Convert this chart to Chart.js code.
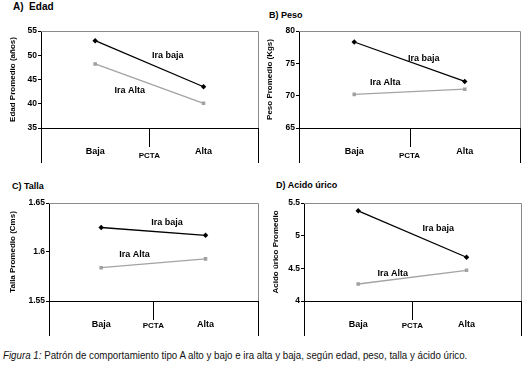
<!DOCTYPE html>
<html lang="es">
<head>
  <meta charset="UTF-8" />
  <title>Figura 1</title>
  <script src="https://cdn.jsdelivr.net/npm/chart.js"></script>
  <style>
    body { margin: 0; background: #fff; font-family: "Liberation Sans", Arial, sans-serif; }
    #wrap { position: relative; width: 526px; height: 368px; overflow: hidden; }
    canvas { position: absolute; }
    .ttl { position: absolute; font-weight: bold; font-size: 9px; color: #000; white-space: nowrap; line-height: 10px; }
    #caption { position: absolute; left: 3px; top: 349px; font-size: 11px; white-space: nowrap;
      font-family: "Liberation Sans", Arial, sans-serif; color: #111;
      transform: scaleX(0.885); transform-origin: left top; }
  </style>
</head>
<body>
<div id="wrap">
  <div class="ttl" style="left:13px;top:2px;font-size:10px;">A)&nbsp; Edad</div>
  <div class="ttl" style="left:269px;top:10px;">B) Peso</div>
  <div class="ttl" style="left:12px;top:181px;">C) Talla</div>
  <div class="ttl" style="left:276px;top:180px;">D) Acido úrico</div>
  <canvas id="cA" width="263" height="168" style="left:0;top:0"></canvas>
  <canvas id="cB" width="263" height="168" style="left:263px;top:0"></canvas>
  <canvas id="cC" width="263" height="168" style="left:0;top:170px"></canvas>
  <canvas id="cD" width="263" height="168" style="left:263px;top:170px"></canvas>
  <div id="caption"><i>Figura 1:</i> Patrón de comportamiento tipo A alto y bajo e ira alta y baja, según edad, peso, talla y ácido úrico.</div>
</div>

<script>
  // categorias (PCTA)
  const categories = ['Baja', 'Alta'];

  // A) Edad
  const edadIraBaja = [53.0, 43.5];
  const edadIraAlta = [48.2, 40.1];
  // B) Peso
  const pesoIraBaja = [78.3, 72.2];
  const pesoIraAlta = [70.2, 71.0];
  // C) Talla
  const tallaIraBaja = [1.625, 1.617];
  const tallaIraAlta = [1.584, 1.593];
  // D) Acido urico
  const acidoIraBaja = [5.38, 4.67];
  const acidoIraAlta = [4.26, 4.47];

  // where the "Ira baja" / "Ira Alta" texts sit (category index, value)
  const edadTextos = [['Ira baja', 0.67, 50.0], ['Ira Alta', 0.32, 42.7]];
  const pesoTextos = [['Ira baja', 0.63, 75.7], ['Ira Alta', 0.28, 72.1]];
  const tallaTextos = [['Ira baja', 0.63, 1.6305], ['Ira Alta', 0.32, 1.597]];
  const acidoTextos = [['Ira baja', 0.74, 5.11], ['Ira Alta', 0.32, 4.416]];

  const FONT = '"Liberation Sans", Arial, sans-serif';

  // plot frame, the Excel-like category box under the axis and the series texts
  const framePlugin = {
    id: 'frame',
    afterDraw(chart, args, opts) {
      const { ctx, chartArea: a, scales: { x, y } } = chart;
      ctx.save();
      ctx.lineWidth = 1;
      ctx.strokeStyle = '#8a8a8a';
      ctx.beginPath();
      ctx.moveTo(a.left, Math.round(a.top) + 0.5);
      ctx.lineTo(Math.round(a.right) + 0.5, Math.round(a.top) + 0.5);
      ctx.lineTo(Math.round(a.right) + 0.5, a.bottom);
      ctx.stroke();

      ctx.strokeStyle = '#000';
      const mid = Math.round((x.getPixelForValue(0) + x.getPixelForValue(1)) / 2) + 0.5;
      const l = Math.round(a.left) + 0.5, r = Math.round(a.right) + 0.5;
      ctx.beginPath();
      ctx.moveTo(l, a.bottom); ctx.lineTo(l, a.bottom + 35);
      ctx.moveTo(r, a.bottom); ctx.lineTo(r, a.bottom + 35);
      ctx.moveTo(mid, a.bottom); ctx.lineTo(mid, a.bottom + 19);
      ctx.stroke();

      ctx.fillStyle = '#000';
      ctx.font = 'bold 9px ' + FONT;
      ctx.textAlign = 'center';
      ctx.textBaseline = 'middle';
      (opts.texts || []).forEach(([t, i, v]) => {
        ctx.fillText(t, x.getPixelForValue(i), y.getPixelForValue(v));
      });
      ctx.restore();
    }
  };

  function makePanel(id, baja, alta, yMin, yMax, step, yTitle, texts, pad, yWidth, yTitlePad, xHeight) {
    return new Chart(document.getElementById(id), {
      type: 'line',
      data: {
        labels: categories,
        datasets: [
          {
            label: 'Ira baja', data: baja, borderColor: '#000', backgroundColor: '#000',
            borderWidth: 1.3, pointStyle: 'rectRot', pointRadius: 1.8, tension: 0
          },
          {
            label: 'Ira Alta', data: alta, borderColor: '#a3a3a3', backgroundColor: '#9a9a9a',
            borderWidth: 1.3, pointStyle: 'rect', pointRadius: 1.6, tension: 0
          }
        ]
      },
      options: {
        responsive: false,
        animation: false,
        devicePixelRatio: 1,
        layout: { padding: pad },
        plugins: {
          legend: { display: false },
          tooltip: { enabled: false },
          frame: { texts: texts }
        },
        scales: {
          x: {
            offset: true,
            grid: { display: false },
            border: { color: '#000', width: 1 },
            ticks: { color: '#000', font: { family: FONT, size: 9, weight: 'bold' }, padding: 10 },
            title: { display: true, text: 'PCTA', color: '#000',
                     font: { family: FONT, size: 8, weight: 'bold' }, padding: { top: 0, bottom: 7 } },
            afterFit: s => { s.height = xHeight; }
          },
          y: {
            min: yMin, max: yMax,
            grid: { drawOnChartArea: false, drawTicks: true, tickLength: 3, color: '#000' },
            border: { color: '#000', width: 1 },
            ticks: {
              stepSize: step, color: '#000', padding: 1,
              font: { family: FONT, size: 8.5, weight: 'bold' },
              callback: v => String(Math.round(v * 1000) / 1000)
            },
            title: { display: true, text: yTitle, color: '#000',
                     font: { family: FONT, size: 8, weight: 'bold' }, padding: { top: yTitlePad, bottom: 0 } },
            afterFit: s => { s.width = yWidth; }
          }
        }
      },
      plugins: [framePlugin]
    });
  }

  makePanel('cA', edadIraBaja, edadIraAlta, 35, 55, 5, 'Edad Promedio (años)', edadTextos,
    { top: 31, right: 4, bottom: 0, left: 0 }, 41, 8, 40);
  makePanel('cB', pesoIraBaja, pesoIraAlta, 65, 80, 5, 'Peso Promedio (Kgs)', pesoTextos,
    { top: 31, right: 6, bottom: 0, left: 0 }, 36, 2, 40);
  makePanel('cC', tallaIraBaja, tallaIraAlta, 1.55, 1.65, 0.05, 'Talla Promedio (Cms)', tallaTextos,
    { top: 33, right: 4, bottom: 0, left: 0 }, 49, 8, 37);
  makePanel('cD', acidoIraBaja, acidoIraAlta, 4, 5.5, 0.5, 'Acido úrico Promedio', acidoTextos,
    { top: 33, right: 4, bottom: 0, left: 0 }, 41, 8, 37);
</script>
</body>
</html>
